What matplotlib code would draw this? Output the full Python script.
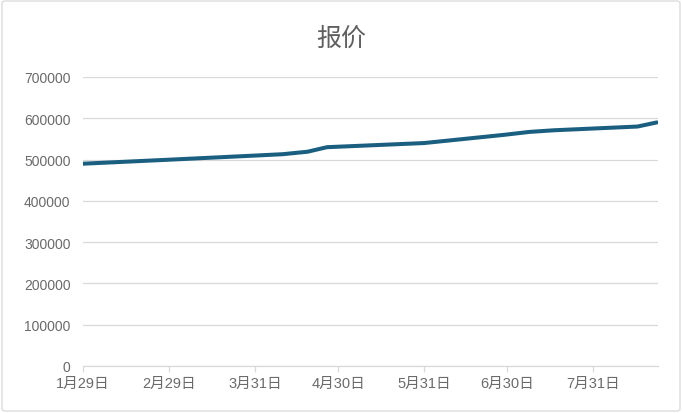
import matplotlib
matplotlib.use("Agg")
import matplotlib.pyplot as plt
from matplotlib.patches import FancyBboxPatch
import pandas as pd

plt.rcParams['font.family'] = ['Liberation Sans', 'Noto Sans CJK SC', 'DejaVu Sans']

title = "报价"
dates = ["2024-01-29", "2024-03-01", "2024-04-01", "2024-04-10", "2024-04-19",
         "2024-04-26", "2024-05-31", "2024-06-29", "2024-07-08", "2024-07-17",
         "2024-08-16", "2024-08-23"]
prices = [490000, 500000, 510000, 513000, 519000,
          530000, 540000, 560000, 567000, 571000,
          580000, 590000]
tick_dates = ["2024-01-29", "2024-02-29", "2024-03-31", "2024-04-30",
              "2024-05-31", "2024-06-30", "2024-07-31"]
tick_labels = ["1月29日", "2月29日", "3月31日", "4月30日", "5月31日", "6月30日", "7月31日"]
yticks = [0, 100000, 200000, 300000, 400000, 500000, 600000, 700000]

x = pd.to_datetime(dates)
xt = pd.to_datetime(tick_dates)

txt = "#6a6a6a"

fig = plt.figure(figsize=(6.82, 4.14), dpi=100)
ax = fig.add_axes([83/682, 1-367/414, (658-83)/682, (367-78)/414])

ax.plot(x, prices, color="#1b5f80", lw=2.9, solid_capstyle="round", solid_joinstyle="round", zorder=3)

ax.set_ylim(0, 700000)
ax.set_yticks(yticks)
ax.set_yticklabels([str(v) for v in yticks])
ax.set_xlim(pd.Timestamp("2024-01-29"), pd.Timestamp("2024-01-29") + pd.Timedelta(days=207.4))
ax.set_xticks(xt)
ax.set_xticklabels(tick_labels)

ax.grid(axis='y', color="#d9d9d9", lw=0.9)
ax.set_axisbelow(True)
for s in ['top', 'right', 'left']:
    ax.spines[s].set_visible(False)
ax.spines['bottom'].set_color("#d9d9d9")
ax.spines['bottom'].set_linewidth(0.9)

ax.tick_params(axis='y', length=0, pad=9, labelsize=10, labelcolor=txt)
ax.tick_params(axis='x', length=4, width=0.9, color="#d9d9d9", pad=3, labelsize=10.5, labelcolor=txt)

fig.text(0.5, 1-39/414, title, ha='center', va='center', fontsize=18, color="#5f5f5f")

border = FancyBboxPatch((2/682, 2/414), 678/682, 410/414, boxstyle="round,pad=0,rounding_size=0.005",
                        transform=fig.transFigure, fill=False, edgecolor="#d9d9d9", lw=0.9)
fig.patches.append(border)

fig.savefig("out.png", dpi=100)
